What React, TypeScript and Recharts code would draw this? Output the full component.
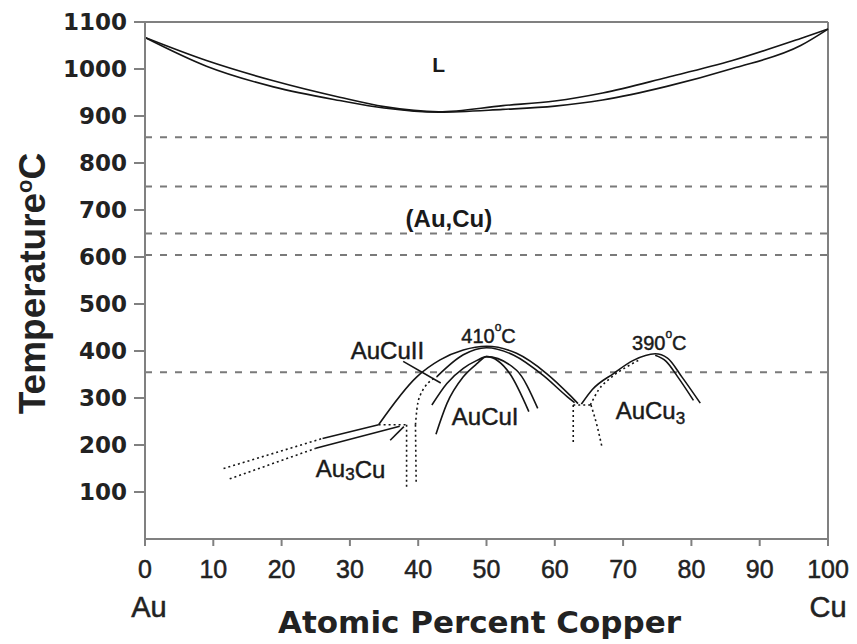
import React from 'react';
import { ComposedChart, Line, XAxis, YAxis, ReferenceLine, ReferenceDot } from 'recharts';

// axis ticks
const xTicks = [0, 10, 20, 30, 40, 50, 60, 70, 80, 90, 100];
const yTicks = [100, 200, 300, 400, 500, 600, 700, 800, 900, 1000, 1100];

// horizontal dashed isotherms (°C)
const isotherms = [855, 750, 650, 604, 355];

// [at.% Cu, °C]
const liquidus = [[0, 1067], [9, 1018], [18.8, 975], [28.5, 940], [35, 920], [43, 909], [52.4, 922], [60, 932], [67, 949], [76.4, 982], [86, 1018], [96, 1065], [100, 1085]];
const solidus = [[0, 1067], [9, 1006], [18.8, 962], [28.5, 933], [35, 917], [43, 908], [52.4, 914], [60, 921], [67, 934], [76.4, 963], [86, 1001], [96, 1050], [100, 1085]];

// Au3Cu
const au3cuUpperDotted = [[11.5, 150], [26, 214]];
const au3cuUpperSolid = [[26, 214], [34.2, 243]];
const au3cuLowerDotted = [[12.4, 128], [25, 193]];
const au3cuLowerSolid = [[25, 193], [37.3, 240]];
const au3cuTie = [[34.2, 243], [38.3, 243]];
const au3cuLeftVertical = [[38.3, 243], [38.3, 111]];
const au3cuRightVertical = [[39.6, 243], [39.7, 122]];
const au3cuPointer = [[35.9, 210], [37.9, 239]];

// AuCuII
const cu2Outer = [[34.2, 243], [39.8, 345], [43.2, 381], [46.6, 402], [50, 410], [54.4, 395], [58.8, 352], [62.2, 306], [63.4, 288]];
const cu2InnerDotted = [[39.6, 243], [39.8, 275], [40.3, 306], [42.7, 345]];
const cu2InnerSolid = [[42.7, 345], [46.6, 392], [50, 407], [54, 391], [58.3, 348], [61.8, 303], [62.9, 290]];
const cu2Pointer = [[37.8, 378], [43.3, 332]];

// eutectoid near 64 at.%
const eutTie = [[62.7, 285], [65.3, 285]];
const eutLeft = [[62.7, 285], [62.7, 203]];
const eutRight = [[65.3, 285], [66.2, 240], [66.9, 196]];

// AuCuI
const cu1Outer = [[42, 285], [44.2, 331], [46.6, 363], [48.6, 380], [50, 388], [54.4, 359], [57.5, 278]];
const cu1Inner = [[42.6, 223], [44.2, 288], [46.6, 345], [48.6, 373], [50, 388], [53.4, 352], [56.2, 271]];

// AuCu3
const cu3Outer = [[63.9, 287], [65.5, 318], [68.6, 352], [71.5, 380], [74.7, 394], [76.5, 385], [78.6, 345], [81.3, 289]];
const cu3InnerDotted = [[65.2, 285], [66.4, 317], [68.1, 342], [70.5, 366], [72.5, 382]];
const cu3InnerRight = [[74.7, 391], [76.3, 378], [78, 345], [80.3, 295]];

const series: { data: number[][]; dotted?: boolean; curve?: 'monotone' | 'linear' }[] = [
  { data: liquidus },
  { data: solidus },
  { data: au3cuUpperDotted, dotted: true, curve: 'linear' },
  { data: au3cuUpperSolid, curve: 'linear' },
  { data: au3cuLowerDotted, dotted: true, curve: 'linear' },
  { data: au3cuLowerSolid, curve: 'linear' },
  { data: au3cuTie, dotted: true, curve: 'linear' },
  { data: au3cuLeftVertical, dotted: true, curve: 'linear' },
  { data: au3cuRightVertical, dotted: true, curve: 'linear' },
  { data: au3cuPointer, curve: 'linear' },
  { data: cu2Outer },
  { data: cu2InnerDotted, dotted: true },
  { data: cu2InnerSolid },
  { data: cu2Pointer, curve: 'linear' },
  { data: eutTie, dotted: true, curve: 'linear' },
  { data: eutLeft, dotted: true, curve: 'linear' },
  { data: eutRight, dotted: true },
  { data: cu1Outer },
  { data: cu1Inner },
  { data: cu3Outer },
  { data: cu3InnerDotted, dotted: true },
  { data: cu3InnerRight },
];

const toPts = (arr: number[][]) => arr.map(([x, y]) => ({ x, y }));

const SANS = 'Liberation Sans, Arial, sans-serif';
const WIDE = 'DejaVu Sans, sans-serif';
const AXIS = '#808080';
const INK = '#1a1a1a';

const YTick = ({ x, y, payload }: any) => (
  <text x={x} y={y} textAnchor="end" dominantBaseline="central" fontFamily={WIDE} fontWeight="bold" fontSize={23} fill="#222">
    {payload.value}
  </text>
);

const XTick = ({ x, y, payload }: any) => (
  <g fontFamily={SANS} fill="#222" stroke="#222" strokeWidth={0.5}>
    <text x={x} y={y + 30} textAnchor="middle" fontSize={25}>
      {payload.value}
    </text>
    {payload.value === 0 && (
      <text x={x + 4} y={y + 69} textAnchor="middle" fontSize={29}>Au</text>
    )}
    {payload.value === 100 && (
      <text x={x} y={y + 69} textAnchor="middle" fontSize={29}>Cu</text>
    )}
  </g>
);

const tag = (key: string, x: number, y: number, node: React.ReactNode, size = 22, bold = false) => (
  <ReferenceDot
    key={key}
    x={x}
    y={y}
    r={0}
    ifOverflow="visible"
    shape={(p: any) => (
      <text
        x={p.cx}
        y={p.cy}
        textAnchor="middle"
        dominantBaseline="central"
        fontFamily={SANS}
        fontSize={size}
        fontWeight={bold ? 'bold' : 'normal'}
        fill={INK}
        stroke={bold ? 'none' : INK}
        strokeWidth={0.45}
      >
        {node}
      </text>
    )}
  />
);

const deg = (t: string) => (
  <>
    {t}
    <tspan fontSize={12} dy={-9}>o</tspan>
    <tspan dy={9}>C</tspan>
  </>
);

export default function App() {
  return (
    <div style={{ position: 'absolute', left: 0, top: 0, background: '#fff' }}>
      <ComposedChart width={857} height={644} margin={{ top: 22, right: 29, left: 0, bottom: 0 }}>
        <XAxis
          type="number"
          dataKey="x"
          domain={[0, 100]}
          ticks={xTicks}
          tickSize={7}
          tick={<XTick />}
          axisLine={{ stroke: AXIS, strokeWidth: 2 }}
          tickLine={{ stroke: AXIS, strokeWidth: 2 }}
          height={105}
          label={{
            content: (p: any) => {
              const vb = p.viewBox || { x: 145, y: 539, width: 683 };
              return (
                <text x={vb.x + vb.width / 2 - 7} y={vb.y + 94} textAnchor="middle" fontFamily={WIDE} fontWeight="bold" fontSize={31} fill="#222">
                  Atomic Percent Copper
                </text>
              );
            },
          }}
        />
        <YAxis
          type="number"
          domain={[0, 1100]}
          ticks={yTicks}
          tickSize={11}
          tickMargin={7}
          tick={<YTick />}
          axisLine={{ stroke: AXIS, strokeWidth: 2 }}
          tickLine={{ stroke: AXIS, strokeWidth: 2 }}
          width={145}
          label={{
            content: (p: any) => {
              const vb = p.viewBox || { x: 0, y: 22, height: 517 };
              const cx = 45;
              const cy = vb.y + vb.height / 2 + 3;
              return (
                <text x={cx} y={cy} transform={`rotate(-90 ${cx} ${cy})`} textAnchor="middle" fontFamily={SANS} fontWeight="bold" fontSize={37} fill="#222">
                  Temperature
                  <tspan fontSize={22} dy={-13}>o</tspan>
                  <tspan dy={13}>C</tspan>
                </text>
              );
            },
          }}
        />

        <ReferenceLine y={1100} stroke={AXIS} strokeWidth={2} />
        <ReferenceLine x={100} stroke={AXIS} strokeWidth={2} />
        {isotherms.map((t) => (
          <ReferenceLine key={t} y={t} stroke="#7a7a7a" strokeWidth={2} strokeDasharray="7 8" />
        ))}

        {series.map((s, i) => (
          <Line
            key={i}
            data={toPts(s.data)}
            dataKey="y"
            type={s.curve || 'monotone'}
            stroke="#151515"
            strokeWidth={1.6}
            strokeDasharray={s.dotted ? '2 3' : undefined}
            dot={false}
            activeDot={false}
            isAnimationActive={false}
            legendType="none"
          />
        ))}

        {tag('L', 43, 1009, 'L', 21, true)}
        {tag('AuCu', 44.5, 682, '(Au,Cu)', 24, true)}
        {tag('AuCuII', 35.5, 402, 'AuCuII', 24)}
        {tag('410', 50.3, 431, deg('410'), 20)}
        {tag('390', 75.3, 418, deg('390'), 20)}
        {tag('AuCuI', 49.8, 260, 'AuCuI', 24)}
        {tag('AuCu3', 74, 274, <>AuCu<tspan fontSize={17} dy={8}>3</tspan></>, 24)}
        {tag('Au3Cu', 30.1, 149, <>Au<tspan fontSize={17} dy={5}>3</tspan><tspan dy={-5}>Cu</tspan></>, 24)}
      </ComposedChart>
    </div>
  );
}
